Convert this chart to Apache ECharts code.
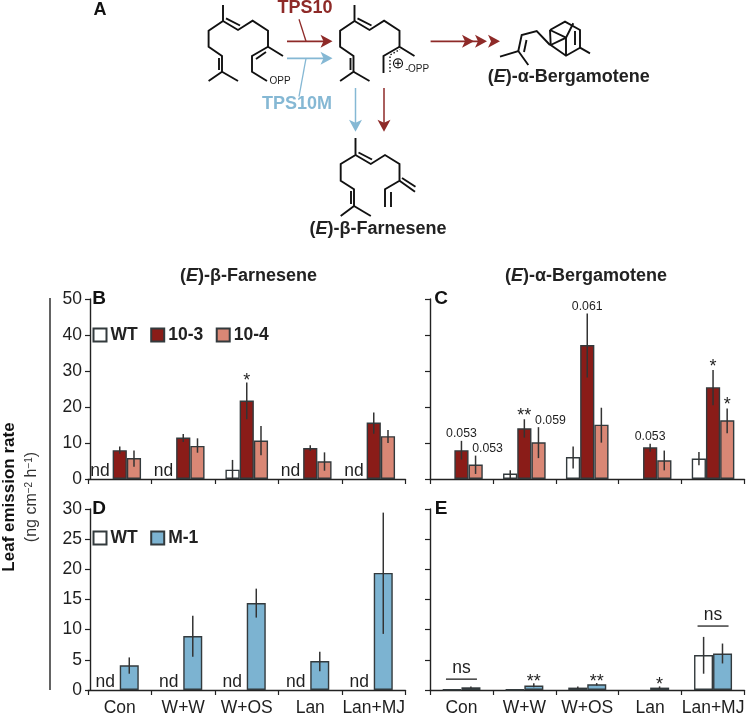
<!DOCTYPE html>
<html><head><meta charset="utf-8">
<script src="https://cdn.jsdelivr.net/npm/echarts@6/dist/echarts.min.js"></script>
<style>html,body{margin:0;padding:0;background:#fff}#c{width:747px;height:715px}</style>
</head><body><div id="c"></div>
<script>
const categories = ['Con','W+W','W+OS','Lan','Lan+MJ'];
const COL = {WT:'#ffffff', r3:'#8a1c18', r4:'#d98775', m1:'#7cb3d1', edge:'#333a3d', txt:'#1f1f1f', red:'#8e2a28', blue:'#85b8d4'};

// Panel B (E)-beta-farnesene
const bWT   = [null,null,2.6,null,null];
const bWTlo = [null,null,0,null,null];
const bWThi = [null,null,5.3,null,null];
const b103   = [8.0,11.5,21.8,8.6,15.7];
const b103lo = [7.0,10.3,16.6,7.8,12.6];
const b103hi = [9.0,12.5,26.8,9.4,18.5];
const b104   = [5.8,9.2,10.7,4.9,11.9];
const b104lo = [3.4,7.3,6.6,2.3,10.0];
const b104hi = [7.9,11.3,14.7,7.4,13.6];
const bNote103 = ['','','*','',''];
const bNoteWT = ['nd','nd','','nd','nd'];

// Panel C (E)-alpha-bergamotene
const cWT   = [null,1.5,6.1,null,5.7];
const cWTlo = [null,0,2.9,null,3.8];
const cWThi = [null,2.4,9.0,null,7.5];
const c103   = [8.0,14.1,37.2,8.8,25.5];
const c103lo = [5.4,11.5,28.2,7.6,20.5];
const c103hi = [10.6,16.6,46.0,9.8,30.3];
const c104   = [4.0,10.2,15.1,5.2,16.3];
const c104lo = [1.4,5.8,10.1,2.4,12.7];
const c104hi = [6.5,14.4,19.8,7.9,19.6];
const cNote103 = ['0.053','**','0.061','0.053','*'];
const cNote104 = ['0.053','0.059','','','*'];

// Panel D
const dM   = [4.1,8.95,14.4,4.8,19.4];
const dMlo = [2.7,5.5,12.0,3.1,9.3];
const dMhi = [5.4,12.3,16.8,6.35,29.4];
const dNoteWT = ['nd','nd','nd','nd','nd'];

// Panel E
const eWT   = [0.08,0.08,0.4,null,5.8];
const eWTlo = [null,null,0.2,null,2.7];
const eWThi = [null,null,0.6,null,8.8];
const eM   = [0.45,0.75,0.95,0.4,6.05];
const eMlo = [0.3,0.45,0.75,0.2,4.4];
const eMhi = [0.6,1.1,1.15,0.6,7.7];
const eNoteM = ['','**','**','*',''];
const eNs = ['ns','','','','ns'];
const eNsLevel = [1.8,null,null,null,10.6];

const yLabelFont = 17.5;
const leftGridX = 88, rightGridX = 430, gridWL = 317.5, gridWR = 314.5;
const grids = [
 {left:leftGridX, top:299, width:gridWL, height:180, outerBoundsMode:'none'},
 {left:rightGridX, top:299, width:gridWR, height:180, outerBoundsMode:'none'},
 {left:leftGridX, top:509, width:gridWL, height:181, outerBoundsMode:'none'},
 {left:rightGridX, top:509, width:gridWR, height:181, outerBoundsMode:'none'}
];
const xAxes = grids.map((g,i)=>({
  type:'category', gridIndex:i, data:categories,
  axisLine:{lineStyle:{color:'#222',width:1.4}},
  axisTick:{show:true,length:5,lineStyle:{color:'#222',width:1.2}},
  axisLabel:{show:i>=2,color:COL.txt,fontFamily:'Liberation Sans',fontSize:17.5,margin:9,interval:0,hideOverlap:false}
}));
const yAxes = [[50,10],[50,10],[30,5],[30,5]].map((a,i)=>({
  type:'value', gridIndex:i, min:0, max:a[0], interval:a[1], offset:(i%2===0)?-2:0,
  splitLine:{show:false},
  axisLine:{show:true,lineStyle:{color:'#222',width:1.4}},
  axisTick:{show:true,length:5,lineStyle:{color:'#222',width:1.2}},
  axisLabel:{show:i%2===0,color:COL.txt,fontFamily:'Liberation Sans',fontSize:yLabelFont,margin:8}
}));

function bar(name,idx,data,color,width){
  return {type:'bar',name,xAxisIndex:idx,yAxisIndex:idx,data,barWidth:width,barGap:0,
    itemStyle:{color,borderColor:COL.edge,borderWidth:1.4},animation:false,z:2};
}
// Error bar + annotation, positioned by the axes from the arrays above
function err(idx,lo,hi,offset,notes,noteFont,noteDy,noteDx){
  return {type:'custom',name:'err',xAxisIndex:idx,yAxisIndex:idx,z:5,animation:false,silent:true,
    data:categories.map((c,i)=>[i,lo[i],hi[i]]),
    encode:{x:0,y:[1,2]},
    renderItem(p,api){
      const i=api.value(0), l=api.value(1), h=api.value(2);
      const cat=api.coord([i,0]);
      const x=cat[0]+offset*api.size([1,0])[0];
      const kids=[];
      let topY=cat[1];
      if(hi[i]!=null){
        const a=api.coord([i,l]), b=api.coord([i,h]);
        topY=b[1];
        kids.push({type:'line',shape:{x1:x,y1:a[1],x2:x,y2:b[1]},style:{stroke:'#333',lineWidth:1.5}});
      }
      if(notes && notes[i]){
        const star=/^\*+$/.test(notes[i]);
        kids.push({type:'text',style:{text:notes[i],x:x+(star?0:(noteDx||0)),y:topY-(noteDy||0)+(star?7:0),align:'center',verticalAlign:'bottom',
          fill:COL.txt,fontFamily:'Liberation Sans',fontSize:star?18:noteFont}});
      }
      return {type:'group',children:kids};
    }};
}
// "nd" labels sit on the baseline over the missing WT bar
function nd(idx,notes,offset){
  return {type:'custom',name:'nd',xAxisIndex:idx,yAxisIndex:idx,z:5,animation:false,silent:true,
    data:categories.map((c,i)=>[i,0]),encode:{x:0,y:1},
    renderItem(p,api){
      const i=api.value(0); if(!notes[i]) return {type:'group',children:[]};
      const c=api.coord([i,0]); const x=c[0]+offset*api.size([1,0])[0];
      return {type:'text',style:{text:notes[i],x,y:c[1]+1,align:'center',verticalAlign:'bottom',fill:COL.txt,
        fontFamily:'Liberation Sans',fontSize:17.5}};
    }};
}
// "ns" comparison line across a group
function ns(idx,notes,levels){
  return {type:'custom',name:'ns',xAxisIndex:idx,yAxisIndex:idx,z:5,animation:false,silent:true,
    data:categories.map((c,i)=>[i,levels[i]]),encode:{x:0,y:1},
    renderItem(p,api){
      const i=api.value(0); if(!notes[i]) return {type:'group',children:[]};
      const c=api.coord([i,levels[i]]);
      return {type:'group',children:[
        {type:'line',shape:{x1:c[0]-15.5,y1:c[1],x2:c[0]+15.5,y2:c[1]},style:{stroke:'#222',lineWidth:1.3}},
        {type:'text',style:{text:notes[i],x:c[0],y:c[1]-11,align:'center',verticalAlign:'middle',fill:COL.txt,
          fontFamily:'Liberation Sans',fontSize:17.5}}
      ]};
    }};
}
const sw3=14.2, sw2=19;
const o3=sw3/63.3, o2=sw2/2/63.3;
const series=[
 bar('WT',0,bWT,COL.WT,sw3),bar('10-3',0,b103,COL.r3,sw3),bar('10-4',0,b104,COL.r4,sw3),
 err(0,bWTlo,bWThi,-o3),err(0,b103lo,b103hi,0,bNote103,12.3,-1),err(0,b104lo,b104hi,o3),
 nd(0,bNoteWT,-0.31),
 bar('WT',1,cWT,COL.WT,sw3),bar('10-3',1,c103,COL.r3,sw3),bar('10-4',1,c104,COL.r4,sw3),
 err(1,cWTlo,cWThi,-o3),err(1,c103lo,c103hi,0,cNote103,12.3,1),err(1,c104lo,c104hi,o3,cNote104,12.3,1,12),
 bar('WT',2,dM.map(()=>null),COL.WT,sw2),bar('M-1',2,dM,COL.m1,sw2),
 err(2,dMlo,dMhi,o2),nd(2,dNoteWT,-0.23),
 bar('WT',3,eWT,COL.WT,sw2),bar('M-1',3,eM,COL.m1,sw2),
 err(3,eWTlo,eWThi,-o2),err(3,eMlo,eMhi,o2,eNoteM,12.3,-1),ns(3,eNs,eNsLevel)
];

const BW=1.9;
const mol=(pts,w)=>({type:'polyline',shape:{points:pts},style:{stroke:'#111',lineWidth:w||BW,fill:'none',lineJoin:'miter'},z:3});
const ln=(x1,y1,x2,y2,c,w,dash)=>({type:'line',shape:{x1,y1,x2,y2},style:{stroke:c,lineWidth:w||1.5,lineDash:dash||null},z:3});
const head=(x,y,dir,c)=>{const s=12,t=6.5,n=3;
  const p=dir==='r'?[[x,y],[x-s,y-t],[x-s+n,y],[x-s,y+t]]:[[x,y],[x-t,y-s],[x,y-s+n],[x+t,y-s]];
  return {type:'polygon',shape:{points:p},style:{fill:c},z:3};};
const txt=(text,x,y,o)=>({type:'text',x,y,rotation:(o&&o.rot)||0,
  style:Object.assign({text,align:'center',verticalAlign:'middle',fill:COL.txt,fontFamily:'Liberation Sans',fontSize:17.5},o&&o.style),z:4});
const chem=(t,x,y,fs)=>({type:'text',x,y,z:4,style:{
  text:t,align:'center',verticalAlign:'middle',fill:'#222',fontFamily:'Liberation Sans',fontSize:fs,fontWeight:'bold',
  rich:{i:{fontStyle:'italic',fontWeight:'bold',fontSize:fs,fontFamily:'Liberation Sans',fill:'#222'}}}});

const dx=131.5;
const farnTail=(o)=>[
  mol([[223+o,5],[223+o,21],[208.6+o,30.7],[208.6+o,46.7],[222+o,56],[222+o,71.7],[208.6+o,81]]),
  mol([[222+o,71.7],[238+o,81]]),
  ln(219+o,58,219+o,70,'#111',BW),
  ln(226+o,18.3,240+o,25.5,'#111',BW)
];
const chain=(o)=>[[223+o,21],[238+o,30],[252.6+o,20.7],[268+o,30.7],[268+o,46.7],[283+o,56]];
const diagram=[
  // Substrate
  ...farnTail(0),
  mol(chain(0)),
  mol([[268,46.7],[252,56],[252,71.7],[267,81]]),
  ln(256,59,266,52,'#111',BW),
  // Cation
  ...farnTail(dx),
  mol(chain(dx)),
  mol([[268+dx,46.7],[252+dx,56],[252+dx,73]]),
  {type:'polyline',shape:{points:[[390,72],[390,55],[400,49.5]]},style:{stroke:'#111',lineWidth:1.4,lineDash:[1.5,2],fill:'none'},z:3},
  {type:'circle',shape:{cx:398,cy:63.3,r:4.5},style:{stroke:'#111',fill:'#fff',lineWidth:1.2},z:3},
  ln(395,63.3,401,63.3,'#111',1.1),ln(398,60.3,398,66.3,'#111',1.1),
  // Product: farnesene
  mol([[355.5,138],[355.5,155],[340.7,164],[340.7,180.7],[354,189.3],[354,206],[340.7,216]]),
  mol([[354,206],[370.8,216]]),
  ln(351,191,351,204,'#111',BW),
  ln(358.5,152.5,372,159.5,'#111',BW),
  mol([[355.5,155],[370.8,164],[385,155],[399.5,164],[399.5,180.7],[385,189.3],[385,207]]),
  ln(391,192,391,207,'#111',BW),
  mol([[399.5,180.7],[415,191.7]]),ln(402,178,415.5,186.7,'#111',BW),
  // Product: bergamotene
  mol([[500,56.7],[518.3,51],[528.3,65]]),
  mol([[518.3,51],[521.7,35],[536.7,31],[550,45]]),
  ln(524,52,526.5,40,'#111',BW),
  mol([[550,30],[565,21.7],[580,30],[580,47.7],[566,55.7],[550.7,45],[550,30]]),
  mol([[550,30],[566,37.7],[566,55.7]]),
  mol([[550.7,45],[566,37.7],[573.3,23.3]]),
  ln(575,31,575,45,'#111',BW),
  mol([[580,47.7],[590,53.3]]),
  // Arrows
  ln(287,41.3,326,41.3,COL.red,1.7),head(332.5,41.3,'r',COL.red),ln(299,19.3,306,41.3,COL.red,1.3),
  ln(287,58.3,326,58.3,COL.blue,1.7),head(332.5,58.3,'r',COL.blue),ln(306,58.3,299,96.7,COL.blue,1.3),
  ln(430.6,41.3,480,41.3,COL.red,1.7),head(474,41.3,'r',COL.red),head(487,41.3,'r',COL.red),head(500,41.3,'r',COL.red),
  ln(355.5,88,355.5,125,COL.blue,1.5),head(355.5,131.7,'d',COL.blue),
  ln(384,88,384,125,COL.red,1.5),head(384,131.7,'d',COL.red),
  // Text of the diagram
  txt('A',100,10,{style:{fontSize:18,fontWeight:'bold',fill:'#111'}}),
  txt('TPS10',305,8,{style:{fontSize:18,fontWeight:'bold',fill:COL.red}}),
  txt('TPS10M',297,104,{style:{fontSize:18,fontWeight:'bold',fill:COL.blue}}),
  txt('OPP',280,81.7,{style:{fontSize:10}}),
  txt('OPP',418.5,69.5,{style:{fontSize:10}}),
  txt('-',407,69,{style:{fontSize:10}}),
  chem('({i|E})-\u03b1-Bergamotene',568.7,77,18),
  chem('({i|E})-\u03b2-Farnesene',378,229,18),
  // Headers
  chem('({i|E})-\u03b2-Farnesene',248.5,276,18),
  chem('({i|E})-\u03b1-Bergamotene',586,276,18),
  // Panel letters
  txt('B',99,299,{style:{fontSize:19,fontWeight:'bold',fill:'#111'}}),
  txt('C',441,299,{style:{fontSize:19,fontWeight:'bold',fill:'#111'}}),
  txt('D',99,509,{style:{fontSize:19,fontWeight:'bold',fill:'#111'}}),
  txt('E',441,509,{style:{fontSize:19,fontWeight:'bold',fill:'#111'}}),
  // Y title
  {type:'text',x:9,y:497,rotation:Math.PI/2,z:4,style:{text:'Leaf emission rate',align:'center',verticalAlign:'middle',fill:'#111',
    fontFamily:'Liberation Sans',fontSize:17,fontWeight:'bold'}},
  {type:'text',x:32,y:497,rotation:Math.PI/2,z:4,style:{text:'(ng cm{s|\u22122} h{s|\u22121})',align:'center',verticalAlign:'middle',fill:'#333',
    fontFamily:'Liberation Sans',fontSize:16,rich:{s:{fontSize:10,verticalAlign:'top',lineHeight:16,fontFamily:'Liberation Sans',fill:'#333'}}}},
  ln(50,298,50,690,'#222',1.4)
];

const legendBase={orient:'horizontal',itemWidth:13,itemHeight:13,itemGap:12.5,selectedMode:false,padding:0,
  textStyle:{color:'#222',fontFamily:'Liberation Sans',fontSize:17.5,fontWeight:'bold',padding:[0,0,0,-1]},icon:'rect'};
const option={
  animation:false,backgroundColor:'#fff',
  grid:grids,xAxis:xAxes,yAxis:yAxes,series,
  legend:[
    Object.assign({},legendBase,{left:92.5,top:326,data:['WT','10-3','10-4']}),
    Object.assign({},legendBase,{left:92.5,top:529,data:['WT','M-1']})
  ],
  graphic:{elements:diagram}
};
const chart=echarts.init(document.getElementById('c'),null,{renderer:'canvas'});
chart.setOption(option);
</script></body></html>
